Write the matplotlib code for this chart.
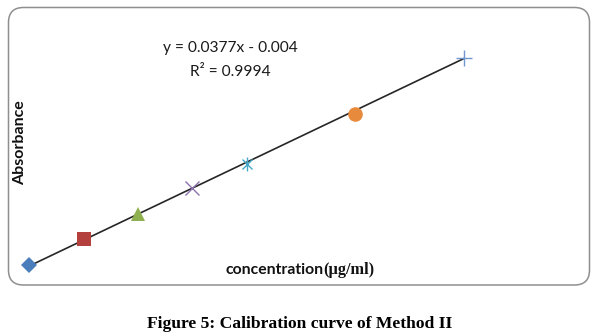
import matplotlib
matplotlib.use("Agg")
import matplotlib.pyplot as plt
import numpy as np
from matplotlib.patches import FancyBboxPatch
from matplotlib.path import Path
from matplotlib.transforms import IdentityTransform

# Calibration data (Method II)
concentration = [0, 2, 4, 6, 8, 12, 16]
absorbance = [0.0, 0.074, 0.147, 0.222, 0.293, 0.438, 0.600]
slope = 0.0377
intercept = -0.004
r_squared = 0.9994

equation_text = "y = 0.0377x - 0.004"
r2_text = "R\u00b2 = 0.9994"
x_label = "concentration"
x_unit = "(\u03bcg/ml)"
y_label = "Absorbance"
caption = "Figure 5: Calibration curve of Method II"

W, H, DPI = 599, 336, 100
fig = plt.figure(figsize=(W / DPI, H / DPI), dpi=DPI)
fig.patch.set_facecolor("white")

# Axes covering the whole figure; data limits chosen so the plot area sits inside the frame
ax = fig.add_axes([0, 0, 1, 1])
ax.set_axis_off()
px_per_x = 27.17
px_per_y = 344.0
x0_px, y0_px = 29.3, 71.4  # pixel location of (0, 0), measured from bottom-left
ax.set_xlim(-x0_px / px_per_x, (W - x0_px) / px_per_x)
ax.set_ylim(-y0_px / px_per_y, (H - y0_px) / px_per_y)

# Rounded chart frame, drawn in pixel units
frame = FancyBboxPatch((8.5, H - 285), 581, 277.5,
                       boxstyle="round,pad=0,rounding_size=15",
                       transform=IdentityTransform(), facecolor="none",
                       edgecolor="#8f8f8f", linewidth=1.1)
fig.patches.append(frame)

# Trendline
xs = np.array([concentration[0], concentration[-1]], dtype=float)
ax.plot(xs, slope * xs + intercept, color="#262626", linewidth=1.2, zorder=2)

# Six-armed star marker
star = Path([(0, -1), (0, 1), (-0.72, -0.72), (0.72, 0.72), (-0.72, 0.72), (0.72, -0.72)],
            [Path.MOVETO, Path.LINETO, Path.MOVETO, Path.LINETO, Path.MOVETO, Path.LINETO])

styles = [
    dict(marker="D", color="#4a7ebb", ms=8),
    dict(marker="s", color="#b3403d", ms=9.5),
    dict(marker="^", color="#8fb04e", ms=10),
    dict(marker="x", color="#8c72ad", ms=9.5, mew=1.0),
    dict(marker=star, color="#46a8c8", ms=10, mew=1.0),
    dict(marker="o", color="#e88a3c", ms=10.5),
    dict(marker="+", color="#7097d0", ms=11, mew=1.0),
]
for xv, yv, st in zip(concentration, absorbance, styles):
    ax.plot([xv], [yv], linestyle="none", marker=st["marker"], color=st["color"],
            markersize=st["ms"], markeredgewidth=st.get("mew", 0.0),
            markeredgecolor=st["color"], zorder=3)

# Trendline annotation
fig.text(230 / W, (H - 48) / H, equation_text, ha="center", va="center",
         fontsize=11.2, family="Lato", color="#1a1a1a")
fig.text(230 / W, (H - 72) / H, r2_text, ha="center", va="center",
         fontsize=11.2, family="Lato", color="#1a1a1a")

# Axis titles
fig.text(20 / W, (H - 143) / H, y_label, ha="center", va="center", rotation=90,
         fontsize=11.5, family="Lato", fontweight="bold", color="#111111")
t1 = fig.text(225 / W, (H - 270) / H, x_label, ha="left", va="center",
              fontsize=11.3, family="Lato", fontweight="bold", color="#111111")
fig.canvas.draw()
bb = t1.get_window_extent(renderer=fig.canvas.get_renderer())
fig.text(bb.x1 / W, (H - 270) / H, x_unit, ha="left", va="center",
         fontsize=11.8, family="Liberation Serif", fontweight="bold", color="#111111")

# Caption
fig.text(300 / W, (H - 324) / H, caption, ha="center", va="center",
         fontsize=12.6, family="Liberation Serif", fontweight="bold", color="#000000")

fig.savefig("out.png", dpi=DPI, facecolor="white")
